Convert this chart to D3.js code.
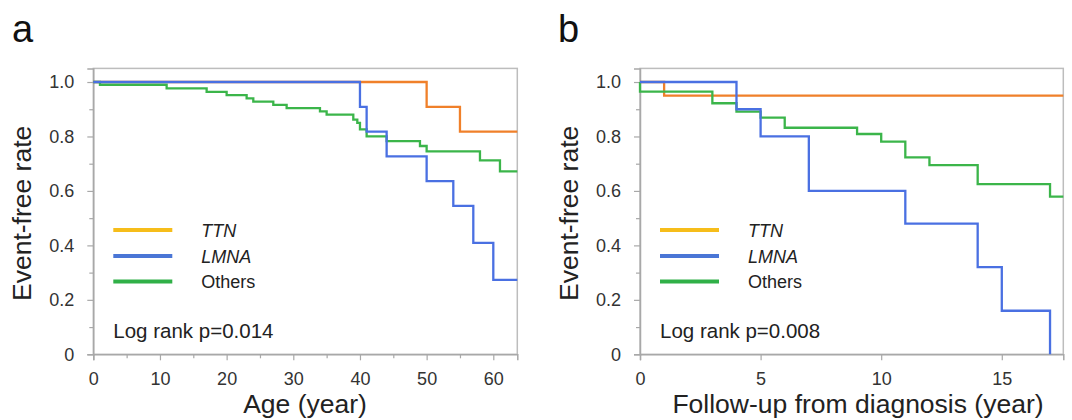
<!DOCTYPE html>
<html>
<head>
<meta charset="utf-8">
<script src="https://cdn.jsdelivr.net/npm/d3@7"></script>
<style>
  html, body { margin: 0; padding: 0; background: #fff; }
  svg { display: block; font-family: "Liberation Sans", Arial, sans-serif; }
</style>
</head>
<body>
<svg id="chart" width="1072" height="420"></svg>
<script>
// ---------- Data ----------
const seriesNames = ["TTN", "LMNA", "Others"];
const yTicks = [0, 0.2, 0.4, 0.6, 0.8, 1.0];
const yMinorTicks = [0.1, 0.3, 0.5, 0.7, 0.9];

// Panel a: Age (year)
const aXTicks = [0, 10, 20, 30, 40, 50, 60];
const aXMinorTicks = [5, 15, 25, 35, 45, 55];
const aTTNTime = [0, 50, 55];
const aTTNValue = [1.0, 0.909, 0.818];
const aLMNATime = [0, 40, 41, 44, 50, 54, 57, 60];
const aLMNAValue = [1.0, 0.909, 0.818, 0.727, 0.636, 0.545, 0.409, 0.273];
const aOthersTime = [0, 1, 11, 17, 20, 23, 24, 27, 29, 34, 35, 39, 39.6, 40, 41, 44, 49, 50, 58, 61];
const aOthersValue = [1.0, 0.99, 0.977, 0.964, 0.952, 0.940, 0.928, 0.916, 0.904, 0.892, 0.880, 0.862, 0.850, 0.826, 0.800, 0.783, 0.765, 0.745, 0.712, 0.672];
const aPValue = "Log rank p=0.014";

// Panel b: Follow-up from diagnosis (year)
const bXTicks = [0, 5, 10, 15];
const bTTNTime = [0, 1];
const bTTNValue = [1.0, 0.95];
const bLMNATime = [0, 4, 5, 7, 11, 14, 15, 17];
const bLMNAValue = [1.0, 0.9, 0.8, 0.6, 0.48, 0.32, 0.16, 0];
const bOthersTime = [0, 0, 3, 4, 5, 6, 9, 10, 11, 12, 14, 17];
const bOthersValue = [1.0, 0.965, 0.922, 0.891, 0.869, 0.832, 0.809, 0.781, 0.723, 0.695, 0.625, 0.579];
const bPValue = "Log rank p=0.008";

// ---------- Style ----------
const colors = { TTN: "#f0802a", LMNA: "#4a70e2", Others: "#3bb54a" };
const legendColors = { TTN: "#f6bd1a", LMNA: "#4a76d6", Others: "#30b048" };
const frameColor = "#bdbdbd";
const axisColor = "#a8a8a8";

const svg = d3.select("#chart");

function panel(opts) {
  const { left, width, top, bottom, xMax, xTicks, xMinor, letter, letterX, xLabel, xLabelX, series, pText } = opts;
  const g = svg.append("g");
  const x = d3.scaleLinear().domain([0, xMax]).range([left, left + width]);
  const y = d3.scaleLinear().domain([0, 1.05]).range([bottom, top]);

  // frame
  g.append("rect")
    .attr("x", left).attr("y", top)
    .attr("width", width).attr("height", bottom - top)
    .attr("fill", "none").attr("stroke", frameColor).attr("stroke-width", 1.5);

  // y axis
  const yAxis = d3.axisLeft(y).tickValues(yTicks).tickSize(6).tickPadding(13)
    .tickFormat(d => d === 0 ? "0" : d3.format(".1f")(d));
  const ya = g.append("g").attr("transform", `translate(${left},0)`).call(yAxis);
  ya.select(".domain").attr("stroke", axisColor).attr("stroke-width", 1.5);
  ya.selectAll(".tick line").attr("stroke", axisColor).attr("stroke-width", 1.2);
  ya.selectAll(".tick text").attr("font-size", 18).attr("fill", "#333")
    .attr("font-family", "Liberation Sans, Arial, sans-serif");
  const yMin = d3.axisLeft(y).tickValues(yMinorTicks).tickSize(4).tickFormat("");
  const ym = g.append("g").attr("transform", `translate(${left},0)`).call(yMin);
  ym.select(".domain").remove();
  ym.selectAll(".tick line").attr("stroke", axisColor).attr("stroke-width", 1.2);

  // x axis
  const xAxis = d3.axisBottom(x).tickValues(xTicks).tickSize(6).tickPadding(12);
  const xa = g.append("g").attr("transform", `translate(0,${bottom})`).call(xAxis);
  xa.select(".domain").attr("stroke", axisColor).attr("stroke-width", 1.5);
  xa.selectAll(".tick line").attr("stroke", axisColor).attr("stroke-width", 1.2);
  xa.selectAll(".tick text").attr("font-size", 18).attr("fill", "#333")
    .attr("font-family", "Liberation Sans, Arial, sans-serif");
  if (xMinor) {
    const xMin = d3.axisBottom(x).tickValues(xMinor).tickSize(4).tickFormat("");
    const xm = g.append("g").attr("transform", `translate(0,${bottom})`).call(xMin);
    xm.select(".domain").remove();
    xm.selectAll(".tick line").attr("stroke", axisColor).attr("stroke-width", 1.2);
  }

  // curves
  const line = d3.line().x(d => x(d[0])).y(d => y(d[1])).curve(d3.curveStepAfter);
  series.forEach(s => {
    const pts = s.time.map((t, i) => [t, s.value[i]]);
    if (s.extend) pts.push([xMax, s.value[s.value.length - 1]]);
    g.append("path").datum(pts)
      .attr("d", line)
      .attr("fill", "none")
      .attr("stroke", colors[s.name])
      .attr("stroke-width", 2.3);
  });

  // legend
  const legY = [230, 256, 281.5];
  seriesNames.forEach((n, i) => {
    g.append("line")
      .attr("x1", left + 20).attr("x2", left + 79)
      .attr("y1", legY[i]).attr("y2", legY[i])
      .attr("stroke", legendColors[n]).attr("stroke-width", 4);
    g.append("text")
      .attr("x", left + 108).attr("y", legY[i] + 6.5)
      .attr("font-size", 18).attr("fill", "#222")
      .attr("font-style", n === "Others" ? "normal" : "italic")
      .text(n);
  });

  // p value
  g.append("text").attr("x", left + 20).attr("y", 338)
    .attr("font-size", 20.5).attr("fill", "#222").text(pText);

  // axis titles
  g.append("text")
    .attr("transform", `translate(${left - 62},${(y(0) + y(1.05)) / 2 + 2}) rotate(-90)`)
    .attr("text-anchor", "middle").attr("font-size", 26.5).attr("fill", "#222")
    .text("Event-free rate");
  g.append("text").attr("x", xLabelX).attr("y", 413)
    .attr("text-anchor", "middle").attr("font-size", 26.5).attr("fill", "#222")
    .text(xLabel);

  // panel letter
  g.append("text").attr("x", letterX).attr("y", 42)
    .attr("font-size", 38).attr("fill", "#111").text(letter);
}

panel({
  left: 93.3, width: 424, top: 68.4, bottom: 354.3, xMax: 63.6,
  xTicks: aXTicks, xMinor: aXMinorTicks,
  letter: "a", letterX: 12, xLabel: "Age (year)", xLabelX: 305,
  pText: aPValue,
  series: [
    { name: "TTN", time: aTTNTime, value: aTTNValue, extend: true },
    { name: "Others", time: aOthersTime, value: aOthersValue, extend: true },
    { name: "LMNA", time: aLMNATime, value: aLMNAValue, extend: true }
  ]
});

panel({
  left: 640, width: 423.3, top: 68.4, bottom: 354.3, xMax: 17.55,
  xTicks: bXTicks, xMinor: null,
  letter: "b", letterX: 558, xLabel: "Follow-up from diagnosis (year)", xLabelX: 858,
  pText: bPValue,
  series: [
    { name: "TTN", time: bTTNTime, value: bTTNValue, extend: true },
    { name: "Others", time: bOthersTime, value: bOthersValue, extend: true },
    { name: "LMNA", time: bLMNATime, value: bLMNAValue, extend: false }
  ]
});
</script>
</body>
</html>
